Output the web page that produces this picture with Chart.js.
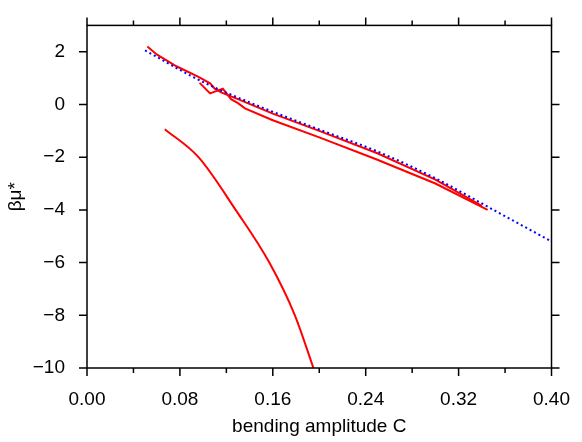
<!DOCTYPE html>
<html><head>
<script src="https://cdn.jsdelivr.net/npm/chart.js@4"></script>
<style>body{margin:0;background:#fff}#wrap{width:582px;height:442px}</style>
</head><body>
<div id="wrap"><canvas id="c"></canvas></div>
<script>
const xTicks = [0, 0.08, 0.16, 0.24, 0.32, 0.40];
const yTicks = [2, 0, -2, -4, -6, -8, -10];
const fitX = [0.05, 0.1, 0.15, 0.2, 0.25, 0.3, 0.35, 0.40];
const fitY = [2.05, 0.85, -0.1, -0.95, -1.78, -2.8, -4.0, -5.2];
const upperX = [0.052, 0.06, 0.077, 0.096, 0.106, 0.11, 0.116, 0.13, 0.16, 0.2, 0.25, 0.3, 0.34];
const upperY = [2.2, 1.9, 1.45, 1.05, 0.8, 0.6, 0.45, 0.2, -0.35, -1.0, -1.85, -2.85, -3.85];
const lowerX = [0.097, 0.106, 0.117, 0.124, 0.13, 0.136, 0.16, 0.2, 0.249, 0.3, 0.345];
const lowerY = [0.82, 0.42, 0.6, 0.2, 0.05, -0.15, -0.6, -1.25, -2.08, -3.0, -4.0];
const dropX = [0.067, 0.096, 0.128, 0.157, 0.179, 0.195];
const dropY = [-0.94, -2.0, -4.0, -6.0, -8.0, -10.0];

const pts = (xs, ys) => xs.map((x, i) => ({x, y: ys[i]}));
const font = {family: 'Liberation Sans, Arial', size: 19};

const frame = {
  id: 'frame',
  afterDraw(chart) {
    const {ctx, chartArea: a, scales: {x, y}} = chart;
    ctx.save();
    ctx.strokeStyle = '#000';
    ctx.lineWidth = 1.5;
    ctx.strokeRect(a.left, a.top, a.right - a.left, a.bottom - a.top);
    ctx.beginPath();
    for (let i = 0; i <= 10; i++) {
      const px = x.getPixelForValue(i * 0.04);
      const len = i % 2 === 0 ? 8 : 5;
      ctx.moveTo(px, a.bottom); ctx.lineTo(px, a.bottom + len);
      ctx.moveTo(px, a.top); ctx.lineTo(px, a.top - len);
    }
    for (const v of yTicks) {
      const py = y.getPixelForValue(v);
      ctx.moveTo(a.left, py); ctx.lineTo(a.left - 8, py);
      ctx.moveTo(a.right, py); ctx.lineTo(a.right + 8, py);
    }
    ctx.stroke();
    ctx.restore();
  }
};

new Chart(document.getElementById('c'), {
  type: 'scatter',
  data: {
    datasets: [
      {data: pts(fitX, fitY), showLine: true, borderColor: '#0000ff', borderWidth: 2, borderDash: [2, 3], pointRadius: 0, cubicInterpolationMode: 'monotone'},
      {data: pts(upperX, upperY), showLine: true, borderColor: '#ff0000', borderWidth: 2, pointRadius: 0},
      {data: pts(lowerX, lowerY), showLine: true, borderColor: '#ff0000', borderWidth: 2, pointRadius: 0},
      {data: pts(dropX, dropY), showLine: true, borderColor: '#ff0000', borderWidth: 2, pointRadius: 0, cubicInterpolationMode: 'monotone'}
    ]
  },
  options: {
    responsive: true, maintainAspectRatio: false, animation: false,
    layout: {padding: {top: -7, right: 25, left: 0, bottom: 0}},
    plugins: {legend: {display: false}, tooltip: {enabled: false}},
    scales: {
      x: {
        type: 'linear', min: 0, max: 0.4,
        afterBuildTicks: s => { s.ticks = xTicks.map(v => ({value: v})); },
        afterFit: s => { s.height = 74; },
        grid: {display: false}, border: {display: false},
        ticks: {font, color: '#000', padding: 12, maxRotation: 0, callback: v => v.toFixed(2)},
        title: {display: true, text: 'bending amplitude C', font, color: '#000', padding: {top: 6}}
      },
      y: {
        min: -10, max: 3,
        afterBuildTicks: s => { s.ticks = yTicks.map(v => ({value: v})); },
        afterFit: s => { s.width = 87; },
        grid: {display: false}, border: {display: false},
        ticks: {font, color: '#000', padding: 14, callback: v => (v < 0 ? '\u2212' + Math.abs(v) : String(v))},
        title: {display: true, text: 'βμ*', font, color: '#000', padding: {bottom: 2}}
      }
    }
  },
  plugins: [frame]
});
</script>
</body></html>
